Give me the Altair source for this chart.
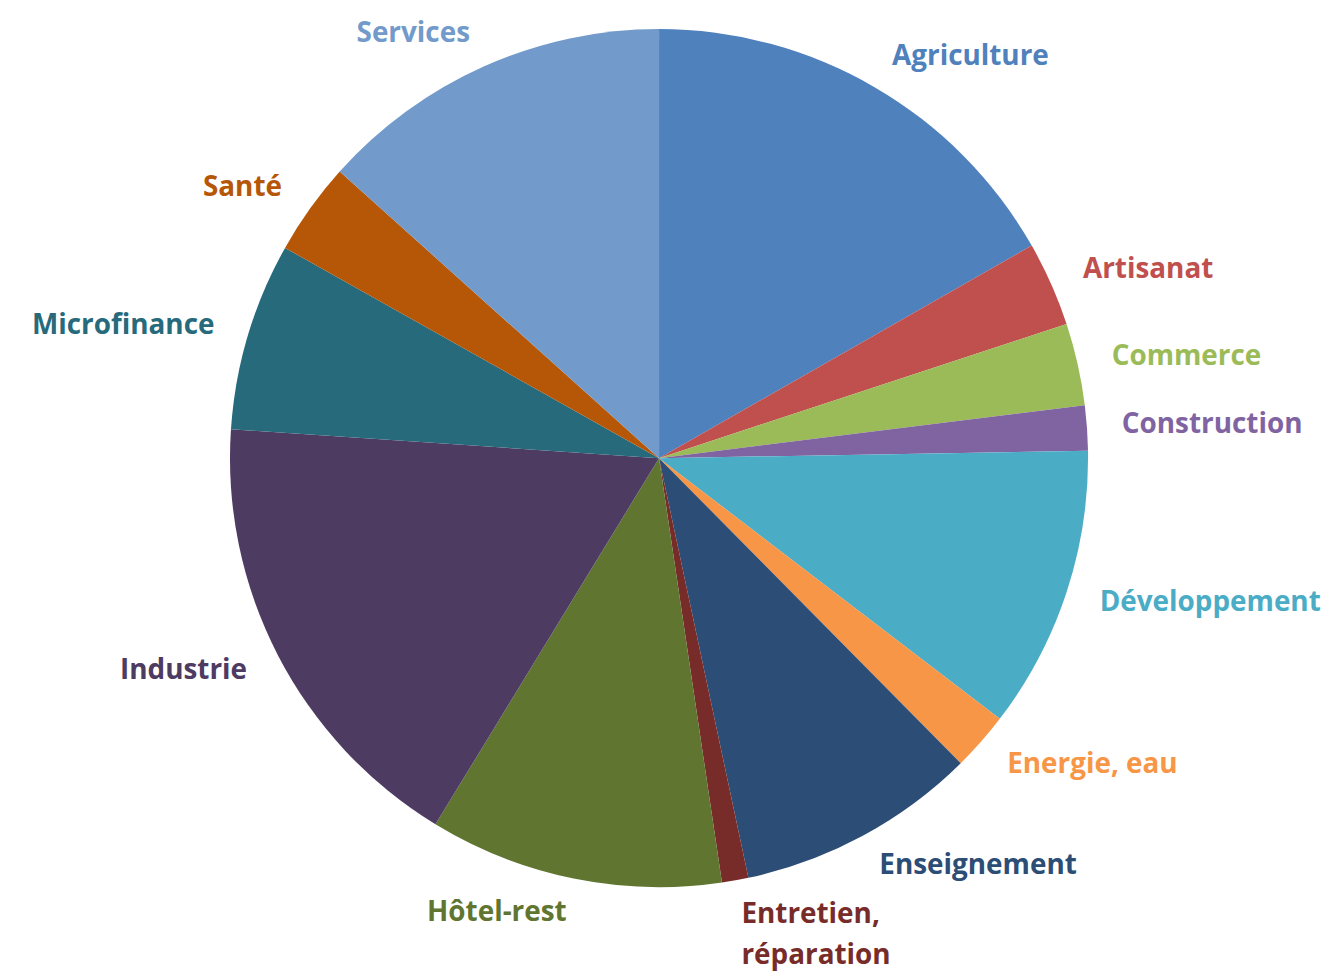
import math
import altair as alt
import pandas as pd

categories = ["Agriculture", "Artisanat", "Commerce", "Construction", "Développement",
              "Energie, eau", "Enseignement", "Entretien, réparation", "Hôtel-rest",
              "Industrie", "Microfinance", "Santé", "Services"]
labels = ["Agriculture", "Artisanat", "Commerce", "Construction", "Développement",
          "Energie, eau", "Enseignement", "Entretien,\nréparation", "Hôtel-rest",
          "Industrie", "Microfinance", "Santé", "Services"]
values = [16.8, 3.2, 3.1, 1.7, 10.7, 2.2, 9.1, 1.0, 11.1, 17.4, 7.1, 3.5, 13.4]
colors = ["#4F81BD", "#C0504D", "#9BBB59", "#8064A2", "#4BACC6", "#F79646", "#2C4D75",
          "#772C2A", "#5F7530", "#4D3B62", "#276A7C", "#B65708", "#729ACA"]

df = pd.DataFrame({"cat": categories, "label": labels, "value": values,
                   "idx": list(range(len(categories)))})

sc = alt.Scale(domain=[0, 1], range=[0, 2 * math.pi])
col = alt.Color("cat:N", scale=alt.Scale(domain=categories, range=colors), legend=None)

base = alt.Chart(df).transform_joinaggregate(
    total="sum(value)"
).transform_window(
    cum="sum(value)", sort=[alt.SortField("idx")], frame=[None, 0]
).transform_calculate(
    start="(datum.cum - datum.value) / datum.total",
    end="datum.cum / datum.total",
    mid="(datum.cum - datum.value / 2) / datum.total",
)

arcs = base.mark_arc(outerRadius=431, stroke=None).encode(
    theta=alt.Theta("start:Q", scale=sc),
    theta2="end:Q",
    color=col,
)

font = dict(font="Open Sans", fontSize=28, fontWeight="bold", lineBreak="\n", lineHeight=42,
            radius=466, baseline="middle")

right = base.transform_filter("datum.mid < 0.5").mark_text(align="left", **font).encode(
    theta=alt.Theta("mid:Q", scale=sc), text="label:N", color=col)
left = base.transform_filter("datum.mid >= 0.5").mark_text(align="right", **font).encode(
    theta=alt.Theta("mid:Q", scale=sc), text="label:N", color=col)

chart = alt.layer(arcs, right, left).properties(
    width=1308, height=900,
    autosize=alt.AutoSizeParams(type="none"),
    padding={"left": 0, "top": 0, "right": 14, "bottom": 66},
).configure_view(stroke=None)

chart.save("out.html", embed_options={"renderer": "svg", "actions": False})
